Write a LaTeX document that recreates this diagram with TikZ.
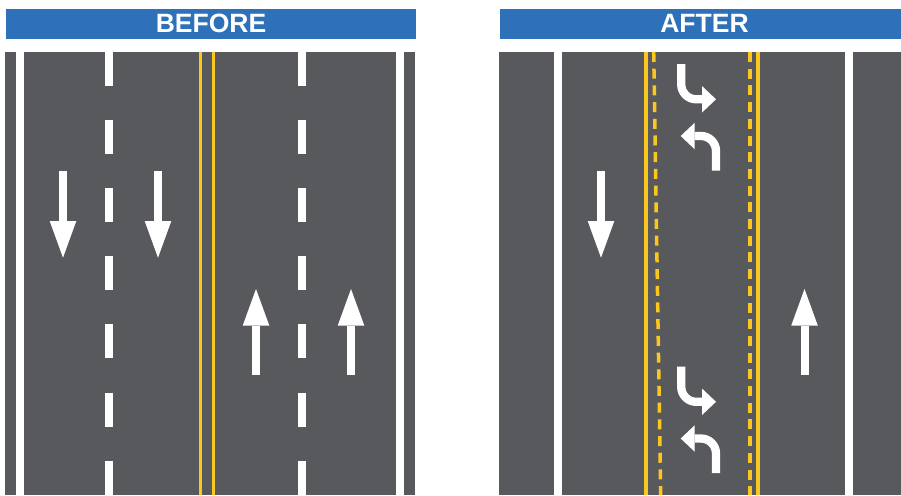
\documentclass[tikz,border=0pt]{standalone}
\usepackage{fontspec}
\setmainfont{Liberation Sans}
\usepackage{xcolor}
\usetikzlibrary{arrows.meta}
\definecolor{RoadGrey}{RGB}{88,89,93}
\definecolor{BarBlue}{RGB}{46,113,184}
\definecolor{LineGold}{RGB}{252,198,32}

\begin{document}
\begin{tikzpicture}[x=1pt, y=-1pt,
          road/.style={fill=RoadGrey},
          barbox/.style={rectangle, fill=BarBlue, inner sep=0pt, minimum width=#1, minimum height=30.3pt},
          bartxt/.style={text=white, inner sep=0pt, font=\fontsize{26.5}{26.5}\selectfont\bfseries},
          edgeline/.style={draw=white, line width=8pt},
          laneline/.style={draw=white, line width=8pt, dash pattern=on 34pt off 34.1pt},
          yline/.style={draw=LineGold, line width=2.7pt},
          yline2/.style={draw=LineGold, line width=3.4pt},
          ydash/.style={draw=LineGold, line width=3.5pt, dash pattern=on 10pt off 6.7pt},
          arr/.style={draw=white, line width=8pt, -{Triangle[length=36.5pt, width=26.5pt, line width=0pt]}},
          turnarr/.style={draw=white, line width=8.3pt, rounded corners=15pt, -{Triangle[length=14pt, width=26.5pt, line width=0pt]}}
        ]
        \useasboundingbox (0,0) rectangle (901,495);

        % headers
        \node[barbox=409.5pt] (beforebar) at (210.75,24.15) {};
        \node[barbox=401pt]   (afterbar)  at (700.5,24.15) {};
        \node[bartxt] (before) at (211,23.4) {BEFORE};
        \node[bartxt] (after)  at (704.5,23.4) {AFTER};

        % before
        \fill[road] (5,52) rectangle (415,495);
        \foreach \x in {19.5,400}
          \draw[edgeline] (\x,52) -- (\x,495);
        \foreach \x in {109,302}
          \draw[laneline] (\x,52) -- (\x,495);
        \foreach \x in {200.3,213.7}
          \draw[yline] (\x,52) -- (\x,495);
        \foreach \x in {63,158}
          \draw[arr] (\x,171) -- (\x,257.7);
        \foreach \x in {256,351}
          \draw[arr] (\x,375) -- (\x,289);

        % after
        \fill[road] (499,52) rectangle (901,495);
        \foreach \x in {558,849}
          \draw[edgeline] (\x,52) -- (\x,495);
        \foreach \x in {645.8,757.8}
          \draw[yline2] (\x,52) -- (\x,495);
        \draw[ydash] (653.7,52) -- (660.7,495);
        \draw[ydash] (750,52) -- (750,495);
        \draw[arr] (601,171) -- (601,257.7);
        \draw[arr] (804.5,375) -- (804.5,289);

        % turn lane
        \foreach \y in {0,302.5} {
          \draw[turnarr] (681.2,64+\y) |- (716,99.3+\y);
          \draw[turnarr] (716,170.7+\y) |- (680.7,136+\y);
        }
      \end{tikzpicture}
\end{document}
